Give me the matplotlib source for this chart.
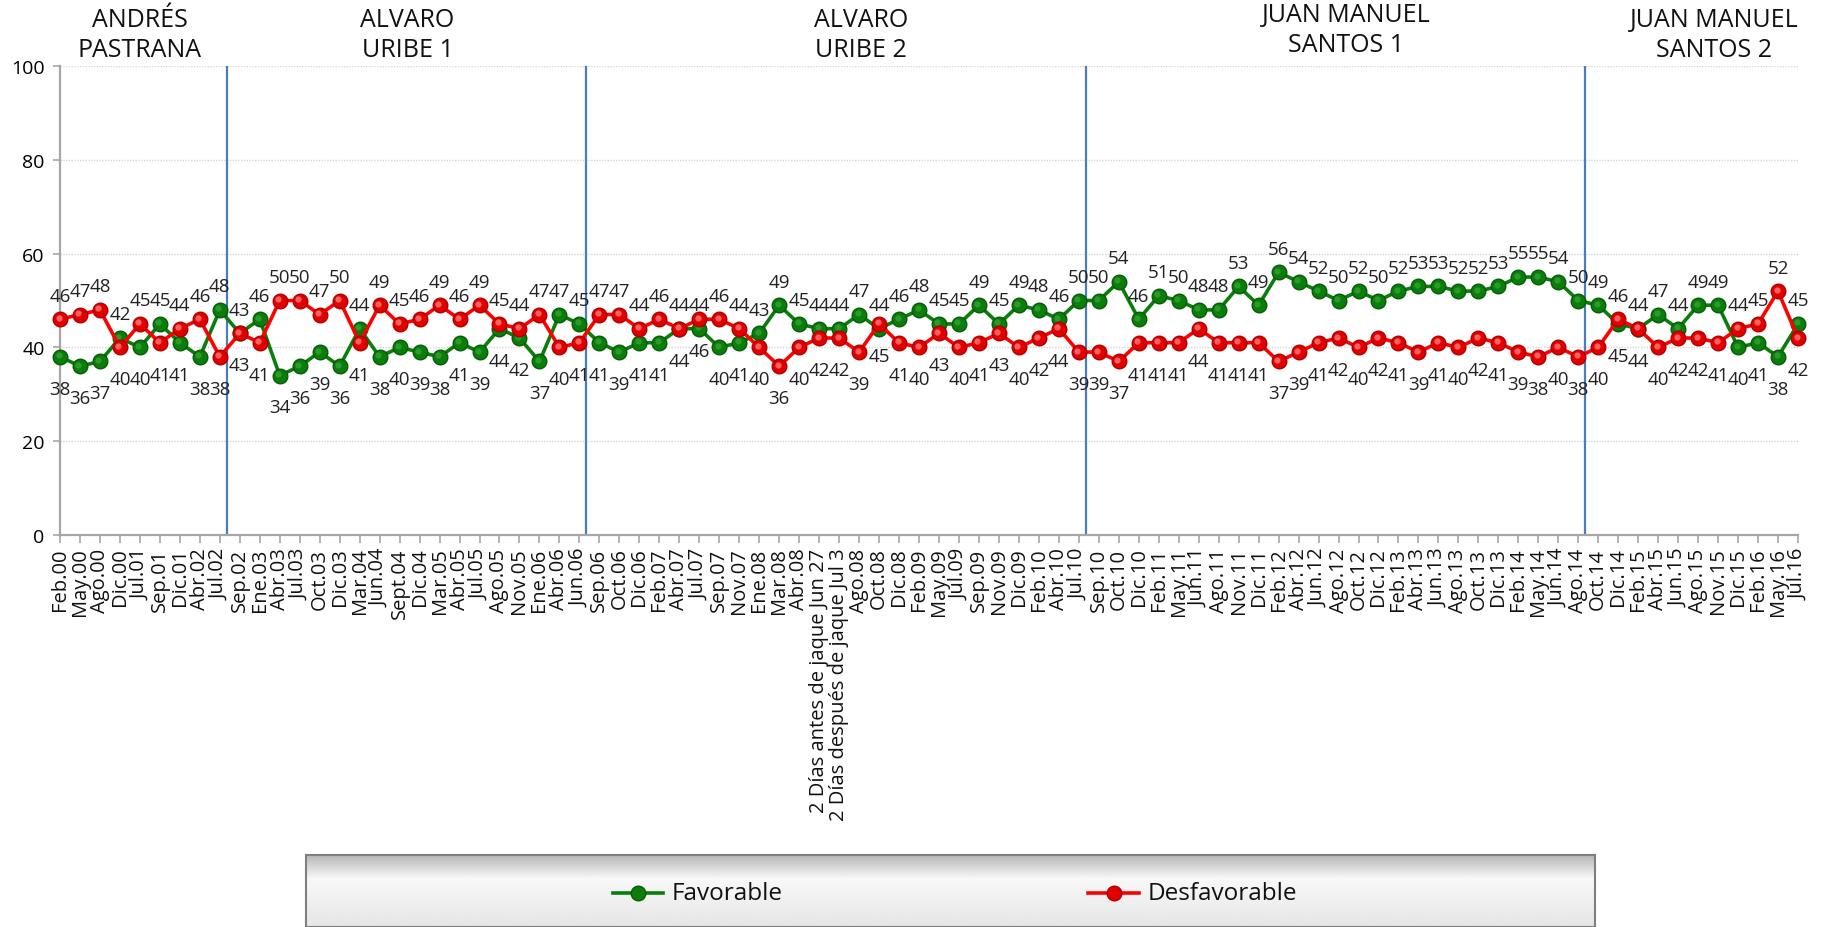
import numpy as np
import matplotlib
matplotlib.use("Agg")
import matplotlib.pyplot as plt
from matplotlib.lines import Line2D
from matplotlib.transforms import blended_transform_factory, offset_copy

plt.rcParams['font.family'] = ['Open Sans', 'DejaVu Sans']

periodos = ["Feb.00", "May.00", "Ago.00", "Dic.00", "Jul.01", "Sep.01", "Dic.01", "Abr.02", "Jul.02",
            "Sep.02", "Ene.03", "Abr.03", "Jul.03", "Oct.03", "Dic.03", "Mar.04", "Jun.04", "Sept.04",
            "Dic.04", "Mar.05", "Abr.05", "Jul.05", "Ago.05", "Nov.05", "Ene.06", "Abr.06", "Jun.06",
            "Sep.06", "Oct.06", "Dic.06", "Feb.07", "Abr.07", "Jul.07", "Sep.07", "Nov.07", "Ene.08",
            "Mar.08", "Abr.08", "2 Días antes de jaque Jun 27", "2 Días después de jaque Jul 3",
            "Ago.08", "Oct.08", "Dic.08", "Feb.09", "May.09", "Jul.09", "Sep.09", "Nov.09", "Dic.09",
            "Feb.10", "Abr.10", "Jul.10", "Sep.10", "Oct.10", "Dic.10", "Feb.11", "May.11", "Jun.11",
            "Ago.11", "Nov.11", "Dic.11", "Feb.12", "Abr.12", "Jun.12", "Ago.12", "Oct.12", "Dic.12",
            "Feb.13", "Abr.13", "Jun.13", "Ago.13", "Oct.13", "Dic.13", "Feb.14", "May.14", "Jun.14",
            "Ago.14", "Oct.14", "Dic.14", "Feb.15", "Abr.15", "Jun.15", "Ago.15", "Nov.15", "Dic.15",
            "Feb.16", "May.16", "Jul.16"]

favorable = [38, 36, 37, 42, 40, 45, 41, 38, 48,
             43, 46, 34, 36, 39, 36, 44, 38, 40,
             39, 38, 41, 39, 44, 42, 37, 47, 45,
             41, 39, 41, 41, 44, 44, 40, 41, 43,
             49, 45, 44, 44,
             47, 44, 46, 48, 45, 45, 49, 45, 49,
             48, 46, 50, 50, 54, 46, 51, 50, 48,
             48, 53, 49, 56, 54, 52, 50, 52, 50,
             52, 53, 53, 52, 52, 53, 55, 55, 54,
             50, 49, 45, 44, 47, 44, 49, 49, 40,
             41, 38, 45]

desfavorable = [46, 47, 48, 40, 45, 41, 44, 46, 38,
                43, 41, 50, 50, 47, 50, 41, 49, 45,
                46, 49, 46, 49, 45, 44, 47, 40, 41,
                47, 47, 44, 46, 44, 46, 46, 44, 40,
                36, 40, 42, 42,
                39, 45, 41, 40, 43, 40, 41, 43, 40,
                42, 44, 39, 39, 37, 41, 41, 41, 44,
                41, 41, 41, 37, 39, 41, 42, 40, 42,
                41, 39, 41, 40, 42, 41, 39, 38, 40,
                38, 40, 46, 44, 40, 42, 42, 41, 44,
                45, 52, 42]

gobiernos = ["ANDRÉS\nPASTRANA", "ALVARO\nURIBE 1", "ALVARO\nURIBE 2",
             "JUAN MANUEL\nSANTOS 1", "JUAN MANUEL\nSANTOS 2"]
# first poll of each new government
inicio_gobierno = ["Sep.02", "Sep.06", "Sep.10", "Oct.14"]

VERDE = '#0a7d0a'
ROJO = '#ff0000'

fig = plt.figure(figsize=(18.32, 9.28), dpi=100)
ax = fig.add_axes([60 / 1832, 1 - 536 / 928, (1798 - 60) / 1832, (536 - 67) / 928])

x = np.arange(len(periodos))

ax.set_ylim(0, 100)
ax.set_xlim(0, len(periodos) - 1)
ax.set_yticks(range(0, 101, 20))
ax.yaxis.grid(True, color='#d6d6d6', linestyle=(0, (1, 1)), linewidth=1)
ax.set_axisbelow(True)

for nombre in inicio_gobierno:
    ax.axvline(periodos.index(nombre) - 0.65, color='#4a7ebb', linewidth=1.6, zorder=2)

ax.plot(x, favorable, color=VERDE, linewidth=2.6, marker='o', markersize=10.5,
        markerfacecolor=VERDE, markeredgecolor='#075c07', zorder=3, clip_on=False)
ax.plot(x, desfavorable, color=ROJO, linewidth=2.6, marker='o', markersize=10.5,
        markerfacecolor='#e00000', markeredgecolor='#b00000', zorder=4, clip_on=False)
# little highlight on the balls
hl = offset_copy(ax.transData, fig=fig, x=-1.5, y=1.5, units='dots')
ax.plot(x, favorable, linestyle='none', marker='o', markersize=4.5, clip_on=False,
        markerfacecolor='#2a9a2a', markeredgewidth=0, transform=hl, zorder=3.5)
ax.plot(x, desfavorable, linestyle='none', marker='o', markersize=4.5, clip_on=False,
        markerfacecolor='#ff6060', markeredgewidth=0, transform=hl, zorder=4.5)

# labels: higher value on top, a couple of points swapped as in the original
verde_arriba = {32, 41}
for i, (f, d) in enumerate(zip(favorable, desfavorable)):
    arriba_verde = f >= d or i in verde_arriba
    for val, top in ((f, arriba_verde), (d, not arriba_verde)):
        ax.annotate(str(val), (i, val), xytext=(0, 17 if top else -23), textcoords='offset points',
                    ha='center', va='center', fontsize=13.5, color='#222222', zorder=5)

for s in ['top', 'right']:
    ax.spines[s].set_visible(False)
for s in ['left', 'bottom']:
    ax.spines[s].set_color('#a6a6a6')
    ax.spines[s].set_linewidth(1.6)

ax.set_xticks(x)
ax.set_xticklabels(periodos, rotation=90, fontsize=14.5, color='#111111')
ax.tick_params(axis='x', length=6, width=1.2, color='#a6a6a6', pad=3)
ax.tick_params(axis='y', length=5, width=1.2, color='#a6a6a6', labelsize=14, pad=6)

# government headers
trans = blended_transform_factory(ax.transData, fig.transFigure)
pos_x = [4.0, 17.4, 40.1, 64.4, 82.8]
pos_y = [0.962, 0.962, 0.962, 0.967, 0.962]
for nombre, px, py in zip(gobiernos, pos_x, pos_y):
    ax.text(px, py, nombre, transform=trans, ha='center', va='center', fontsize=18,
            linespacing=1.25, color='#111111')

# legend box with a soft gradient
lx0, lx1, ly0, ly1 = 306 / 1832, 1595 / 1832, 0.0, 72 / 928
legax = fig.add_axes([lx0, ly0, lx1 - lx0, ly1 - ly0])
grad = np.concatenate([np.linspace(0.72, 0.97, 20), np.linspace(0.97, 0.90, 40)])
legax.imshow(grad[:, None] * np.ones((1, 10)), cmap='gray', vmin=0, vmax=1,
             aspect='auto', extent=[0, 1, 0, 1], origin='upper')
legax.set_xlim(0, 1)
legax.set_ylim(0, 1)
legax.set_xticks([])
legax.set_yticks([])
for s in legax.spines.values():
    s.set_color('#7f7f7f')
    s.set_linewidth(1.5)

entradas = [('Favorable', VERDE, VERDE, '#075c07', 0.238),
            ('Desfavorable', ROJO, '#e00000', '#b00000', 0.607)]
for texto, lc, fc, ec, x0 in entradas:
    legax.add_line(Line2D([x0, x0 + 0.039], [0.47, 0.47], color=lc, linewidth=2.6))
    legax.add_line(Line2D([x0 + 0.0195], [0.47], marker='o', markersize=10.5,
                          markerfacecolor=fc, markeredgecolor=ec))
    legax.text(x0 + 0.046, 0.47, texto, ha='left', va='center', fontsize=17.5, color='#111111')

fig.savefig('out.png', dpi=100)
